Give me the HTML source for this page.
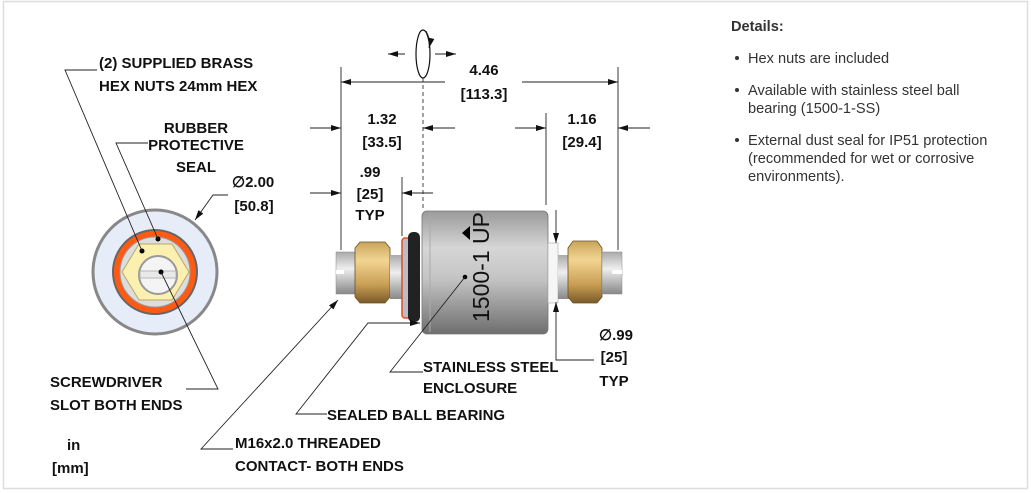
<!DOCTYPE html>
<html><head><meta charset="utf-8"><style>
html,body{margin:0;padding:0;background:#fff;width:1031px;height:493px;overflow:hidden}
svg{display:block}
.b{font-family:"Liberation Sans",sans-serif;font-weight:bold;font-size:15px;fill:#111}
.d{font-family:"Liberation Sans",sans-serif;font-size:14.6px;fill:#333}
.l{stroke:#222;stroke-width:0.9;fill:none}
</style></head><body>
<svg width="1031" height="493" viewBox="0 0 1031 493" xmlns="http://www.w3.org/2000/svg">
<defs>
<marker id="a" viewBox="0 0 10 6" refX="10" refY="3" markerWidth="14" markerHeight="6" markerUnits="userSpaceOnUse" orient="auto"><path d="M0,0L10,3L0,6z" fill="#111"/></marker>
<linearGradient id="body" x1="0" y1="0" x2="0" y2="1"><stop offset="0" stop-color="#9a9a9a"/><stop offset="0.3" stop-color="#d6d6d6"/><stop offset="0.55" stop-color="#c4c4c4"/><stop offset="1" stop-color="#6e6e6e"/></linearGradient>
<linearGradient id="brass" x1="0" y1="0" x2="0" y2="1"><stop offset="0" stop-color="#c9a45a"/><stop offset="0.3" stop-color="#f2d592"/><stop offset="0.7" stop-color="#c99e54"/><stop offset="1" stop-color="#7a5a2a"/></linearGradient>
<linearGradient id="steel" x1="0" y1="0" x2="0" y2="1"><stop offset="0" stop-color="#aaa"/><stop offset="0.4" stop-color="#eee"/><stop offset="1" stop-color="#888"/></linearGradient>
</defs>
<rect x="3.5" y="1.5" width="1024" height="487" fill="none" stroke="#ddd" stroke-width="1.5"/>

<!-- front view -->
<circle cx="155" cy="272" r="62" fill="#e6ecf8" stroke="#888" stroke-width="3"/>
<circle cx="155" cy="272" r="42" fill="#ff5a14" stroke="#666" stroke-width="2"/>
<circle cx="155" cy="272" r="35" fill="#ddd" stroke="#999"/>
<polygon points="122,272 139,244 172,244 189,272 172,300 139,300" fill="#fbf0b0" stroke="#b9a76a"/>
<circle cx="158" cy="275" r="19" fill="#f4f4f4" stroke="#999" stroke-width="2"/>
<rect x="140" y="271" width="36" height="7" fill="#e8e8e8" stroke="#aaa" stroke-width="0.8"/>
<circle cx="142" cy="251" r="2.5" fill="#000"/><circle cx="158" cy="239" r="2.5" fill="#000"/><circle cx="161" cy="272" r="2.5" fill="#000"/>
<path class="l" d="M97,70H65L142,251"/>
<path class="l" d="M148,143H116L158,239"/>
<path class="l" d="M186,389H218L161,272"/>
<path class="l" d="M228,195H213L195,220" marker-end="url(#a)"/>

<!-- side view -->
<rect x="336" y="252" width="22" height="42" fill="url(#steel)" stroke="#888" stroke-width="0.5"/>
<rect x="336" y="270" width="8" height="4" fill="#fff"/>
<polygon points="355,248 360,242 385,242 390,248 390,297 385,303 360,303 355,297" fill="url(#brass)" stroke="#6b5020" stroke-width="0.8"/>
<rect x="390" y="255" width="14" height="44" fill="url(#steel)"/>
<rect x="402" y="238" width="8" height="80" rx="3" fill="#bbc" stroke="#e05020" stroke-width="1.5"/>
<rect x="408" y="232" width="12" height="90" rx="5" fill="#222"/>
<rect x="422" y="211" width="126" height="123" rx="5" fill="url(#body)" stroke="#777" stroke-width="0.8"/>
<line x1="430" y1="213" x2="430" y2="332" stroke="#aaa"/>
<rect x="548" y="243" width="10" height="60" fill="#f6f6f6" stroke="#aaa" stroke-width="0.6"/>
<rect x="558" y="255" width="12" height="44" fill="url(#steel)"/>
<polygon points="568,248 573,241 597,241 602,248 602,297 597,303 573,303 568,297" fill="url(#brass)" stroke="#6b5020" stroke-width="0.8"/>
<rect x="602" y="252" width="20" height="42" fill="url(#steel)" stroke="#888" stroke-width="0.5"/>
<rect x="612" y="270" width="10" height="4" fill="#fff"/>
<text transform="translate(489,322) rotate(-90)" style="font-family:'Liberation Sans',sans-serif;font-size:23px;fill:#111">1500-1 UP</text>
<polygon points="462,233 470,226 470,240" fill="#000"/>
<circle cx="465" cy="277" r="2.3" fill="#000"/>

<!-- dimensions -->
<ellipse cx="423" cy="54" rx="7" ry="24" fill="none" stroke="#111" stroke-width="1.2"/>
<path d="M426,31 Q431,40 429,48" class="l" marker-end="url(#a)"/>
<line x1="405" y1="54" x2="388" y2="54" class="l" marker-end="url(#a)"/>
<line x1="435" y1="54" x2="456" y2="54" class="l" marker-end="url(#a)"/>
<line x1="423" y1="78" x2="423" y2="211" stroke="#333" stroke-width="0.9" stroke-dasharray="4,3"/>
<line class="l" x1="341" y1="67" x2="341" y2="250"/>
<line class="l" x1="618" y1="67" x2="618" y2="250"/>
<line class="l" x1="445" y1="82" x2="341" y2="82" marker-end="url(#a)"/>
<line class="l" x1="522" y1="82" x2="618" y2="82" marker-end="url(#a)"/>
<text class="b" x="484" y="75" text-anchor="middle">4.46</text>
<text class="b" x="484" y="99" text-anchor="middle">[113.3]</text>
<line class="l" x1="310" y1="128" x2="341" y2="128" marker-end="url(#a)"/>
<line class="l" x1="455" y1="128" x2="423" y2="128" marker-end="url(#a)"/>
<text class="b" x="382" y="124" text-anchor="middle">1.32</text>
<text class="b" x="382" y="147" text-anchor="middle">[33.5]</text>
<line class="l" x1="546" y1="113" x2="546" y2="205"/>
<line class="l" x1="515" y1="128" x2="546" y2="128" marker-end="url(#a)"/>
<line class="l" x1="650" y1="128" x2="618" y2="128" marker-end="url(#a)"/>
<text class="b" x="582" y="124" text-anchor="middle">1.16</text>
<text class="b" x="582" y="147" text-anchor="middle">[29.4]</text>
<line class="l" x1="402" y1="177" x2="402" y2="236"/>
<line class="l" x1="310" y1="193" x2="341" y2="193" marker-end="url(#a)"/>
<line class="l" x1="433" y1="193" x2="402" y2="193" marker-end="url(#a)"/>
<text class="b" x="370" y="177" text-anchor="middle">.99</text>
<text class="b" x="370" y="199" text-anchor="middle">[25]</text>
<text class="b" x="370" y="220" text-anchor="middle">TYP</text>
<line class="l" x1="556" y1="210" x2="556" y2="243" marker-end="url(#a)"/>
<path class="l" d="M594,360H556V302" marker-end="url(#a)"/>
<text class="b" x="599" y="340">∅.99</text>
<text class="b" x="614" y="362" text-anchor="middle">[25]</text>
<text class="b" x="614" y="386" text-anchor="middle">TYP</text>
<text class="b" x="232" y="187">∅2.00</text>
<text class="b" x="254" y="211" text-anchor="middle">[50.8]</text>

<!-- leaders side -->
<path class="l" d="M233,449H201L338,300" marker-end="url(#a)"/>
<path class="l" d="M327,414H296L368,323H420" marker-end="url(#a)"/>
<path class="l" d="M423,372H390L465,277"/>

<!-- labels -->
<text class="b" x="99" y="68">(2) SUPPLIED BRASS</text>
<text class="b" x="99" y="91">HEX NUTS 24mm HEX</text>
<text class="b" x="196" y="133" text-anchor="middle">RUBBER</text>
<text class="b" x="196" y="150" text-anchor="middle">PROTECTIVE</text>
<text class="b" x="196" y="172" text-anchor="middle">SEAL</text>
<text class="b" x="50" y="387">SCREWDRIVER</text>
<text class="b" x="50" y="410">SLOT BOTH ENDS</text>
<text class="b" x="67" y="450">in</text>
<text class="b" x="52" y="473">[mm]</text>
<text class="b" x="423" y="372">STAINLESS STEEL</text>
<text class="b" x="423" y="393">ENCLOSURE</text>
<text class="b" x="327" y="420">SEALED BALL BEARING</text>
<text class="b" x="235" y="448">M16x2.0 THREADED</text>
<text class="b" x="235" y="471">CONTACT- BOTH ENDS</text>

<!-- details -->
<text class="d" x="731" y="31" style="font-weight:bold">Details:</text>
<circle cx="737" cy="58" r="2" fill="#333"/><text class="d" x="748" y="63">Hex nuts are included</text>
<circle cx="737" cy="90" r="2" fill="#333"/><text class="d" x="748" y="95">Available with stainless steel ball</text>
<text class="d" x="748" y="113">bearing (1500-1-SS)</text>
<circle cx="737" cy="140" r="2" fill="#333"/><text class="d" x="748" y="145">External dust seal for IP51 protection</text>
<text class="d" x="748" y="163">(recommended for wet or corrosive</text>
<text class="d" x="748" y="181">environments).</text>
</svg>
</body></html>
